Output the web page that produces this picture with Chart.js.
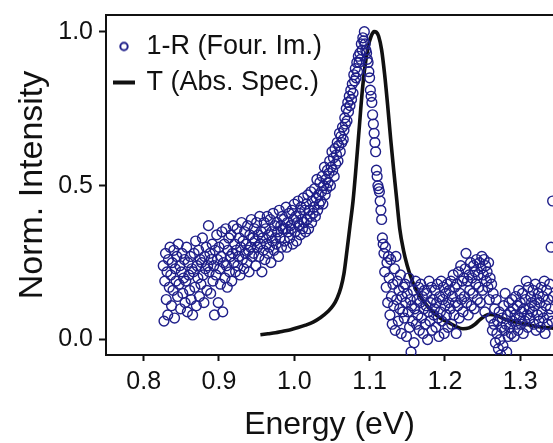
<!DOCTYPE html>
<html>
<head>
<meta charset="utf-8">
<script src="https://cdn.jsdelivr.net/npm/chart.js@4"></script>
<style>
  html, body { margin: 0; padding: 0; background: #fff; overflow: hidden; }
</style>
</head>
<body>
<canvas id="chart" width="553" height="443"></canvas>
<script>
// 1-R (Fourier imaging), energy in eV
const reflE = [
  0.826, 0.827, 0.828, 0.829, 0.830, 0.831, 0.832, 0.833, 0.834, 0.835,
  0.836, 0.837, 0.838, 0.839, 0.840, 0.841, 0.842, 0.843, 0.844, 0.845,
  0.846, 0.847, 0.848, 0.849, 0.850, 0.851, 0.852, 0.853, 0.854, 0.855,
  0.856, 0.857, 0.858, 0.859, 0.860, 0.861, 0.862, 0.863, 0.864, 0.865,
  0.866, 0.867, 0.868, 0.869, 0.870, 0.871, 0.872, 0.873, 0.874, 0.875,
  0.876, 0.877, 0.878, 0.879, 0.880, 0.881, 0.882, 0.883, 0.884, 0.885,
  0.886, 0.887, 0.888, 0.889, 0.890, 0.891, 0.892, 0.893, 0.894, 0.895,
  0.896, 0.897, 0.898, 0.899, 0.900, 0.901, 0.902, 0.903, 0.904, 0.905,
  0.906, 0.907, 0.908, 0.909, 0.910, 0.911, 0.912, 0.913, 0.914, 0.915,
  0.916, 0.917, 0.918, 0.919, 0.920, 0.921, 0.922, 0.923, 0.924, 0.925,
  0.926, 0.927, 0.928, 0.929, 0.930, 0.931, 0.932, 0.933, 0.934, 0.935,
  0.936, 0.937, 0.938, 0.939, 0.940, 0.941, 0.942, 0.943, 0.944, 0.945,
  0.946, 0.947, 0.948, 0.949, 0.950, 0.951, 0.952, 0.953, 0.954, 0.955,
  0.956, 0.957, 0.958, 0.959, 0.960, 0.961, 0.962, 0.963, 0.964, 0.965,
  0.966, 0.967, 0.968, 0.969, 0.970, 0.971, 0.972, 0.973, 0.974, 0.975,
  0.976, 0.977, 0.978, 0.979, 0.980, 0.981, 0.982, 0.983, 0.984, 0.985,
  0.986, 0.987, 0.988, 0.989, 0.990, 0.991, 0.992, 0.993, 0.994, 0.995,
  0.996, 0.997, 0.998, 0.999, 1.000, 1.001, 1.002, 1.003, 1.004, 1.005,
  1.006, 1.007, 1.008, 1.009, 1.010, 1.011, 1.012, 1.013, 1.014, 1.015,
  1.016, 1.017, 1.018, 1.019, 1.020, 1.021, 1.022, 1.023, 1.024, 1.025,
  1.026, 1.027, 1.028, 1.029, 1.030, 1.031, 1.032, 1.033, 1.034, 1.035,
  1.036, 1.037, 1.038, 1.039, 1.040, 1.041, 1.042, 1.043, 1.044, 1.045,
  1.046, 1.047, 1.048, 1.049, 1.050, 1.051, 1.052, 1.053, 1.054, 1.055,
  1.056, 1.057, 1.058, 1.059, 1.060, 1.061, 1.062, 1.063, 1.064, 1.065,
  1.066, 1.067, 1.068, 1.069, 1.070, 1.071, 1.072, 1.073, 1.074, 1.075,
  1.076, 1.077, 1.078, 1.079, 1.080, 1.081, 1.082, 1.083, 1.084, 1.085,
  1.086, 1.087, 1.088, 1.089, 1.090, 1.091, 1.092, 1.093, 1.094, 1.095,
  1.096, 1.097, 1.098, 1.099, 1.100, 1.101, 1.102, 1.103, 1.104, 1.105,
  1.106, 1.107, 1.108, 1.109, 1.110, 1.111, 1.112, 1.113, 1.114, 1.115,
  1.116, 1.117, 1.118, 1.119, 1.120, 1.121, 1.122, 1.123, 1.124, 1.125,
  1.126, 1.127, 1.128, 1.129, 1.130, 1.131, 1.132, 1.133, 1.134, 1.135,
  1.136, 1.137, 1.138, 1.139, 1.140, 1.141, 1.142, 1.143, 1.144, 1.145,
  1.146, 1.147, 1.148, 1.149, 1.150, 1.151, 1.152, 1.153, 1.154, 1.155,
  1.156, 1.157, 1.158, 1.159, 1.160, 1.161, 1.162, 1.163, 1.164, 1.165,
  1.166, 1.167, 1.168, 1.169, 1.170, 1.171, 1.172, 1.173, 1.174, 1.175,
  1.176, 1.177, 1.178, 1.179, 1.180, 1.181, 1.182, 1.183, 1.184, 1.185,
  1.186, 1.187, 1.188, 1.189, 1.190, 1.191, 1.192, 1.193, 1.194, 1.195,
  1.196, 1.197, 1.198, 1.199, 1.200, 1.201, 1.202, 1.203, 1.204, 1.205,
  1.206, 1.207, 1.208, 1.209, 1.210, 1.211, 1.212, 1.213, 1.214, 1.215,
  1.216, 1.217, 1.218, 1.219, 1.220, 1.221, 1.222, 1.223, 1.224, 1.225,
  1.226, 1.227, 1.228, 1.229, 1.230, 1.231, 1.232, 1.233, 1.234, 1.235,
  1.236, 1.237, 1.238, 1.239, 1.240, 1.241, 1.242, 1.243, 1.244, 1.245,
  1.246, 1.247, 1.248, 1.249, 1.250, 1.251, 1.252, 1.253, 1.254, 1.255,
  1.256, 1.257, 1.258, 1.259, 1.260, 1.261, 1.262, 1.263, 1.264, 1.265,
  1.266, 1.267, 1.268, 1.269, 1.270, 1.271, 1.272, 1.273, 1.274, 1.275,
  1.276, 1.277, 1.278, 1.279, 1.280, 1.281, 1.282, 1.283, 1.284, 1.285,
  1.286, 1.287, 1.288, 1.289, 1.290, 1.291, 1.292, 1.293, 1.294, 1.295,
  1.296, 1.297, 1.298, 1.299, 1.300, 1.301, 1.302, 1.303, 1.304, 1.305,
  1.306, 1.307, 1.308, 1.309, 1.310, 1.311, 1.312, 1.313, 1.314, 1.315,
  1.316, 1.317, 1.318, 1.319, 1.320, 1.321, 1.322, 1.323, 1.324, 1.325,
  1.326, 1.327, 1.328, 1.329, 1.330, 1.331, 1.332, 1.333, 1.334, 1.335,
  1.336, 1.337, 1.338, 1.339, 1.340, 1.341, 1.342, 1.343, 1.344, 1.345
];

// normalised 1-R intensity
const reflI = [
  0.24, 0.06, 0.19, 0.28, 0.13, 0.22, 0.08, 0.26, 0.17, 0.30,
  0.21, 0.11, 0.25, 0.16, 0.29, 0.07, 0.23, 0.19, 0.27, 0.14,
  0.31, 0.18, 0.24, 0.10, 0.22, 0.28, 0.15, 0.20, 0.26, 0.12,
  0.19, 0.30, 0.09, 0.25, 0.21, 0.16, 0.27, 0.13, 0.23, 0.08,
  0.22, 0.28, 0.17, 0.32, 0.11, 0.24, 0.20, 0.29, 0.14, 0.26,
  0.18, 0.25, 0.33, 0.21, 0.12, 0.27, 0.23, 0.30, 0.16, 0.24,
  0.37, 0.22, 0.28, 0.15, 0.26, 0.31, 0.19, 0.24, 0.08, 0.29,
  0.21, 0.34, 0.26, 0.12, 0.30, 0.23, 0.18, 0.27, 0.35, 0.09,
  0.25, 0.31, 0.20, 0.36, 0.24, 0.17, 0.29, 0.33, 0.22, 0.27,
  0.34, 0.19, 0.28, 0.37, 0.25, 0.31, 0.22, 0.29, 0.36, 0.24,
  0.27, 0.33, 0.21, 0.30, 0.38, 0.26, 0.32, 0.23, 0.35, 0.28,
  0.31, 0.25, 0.37, 0.29, 0.22, 0.34, 0.30, 0.39, 0.27, 0.33,
  0.28, 0.36, 0.32, 0.24, 0.38, 0.30, 0.34, 0.27, 0.40, 0.31,
  0.35, 0.22, 0.33, 0.29, 0.38, 0.26, 0.36, 0.31, 0.40, 0.28,
  0.34, 0.30, 0.39, 0.25, 0.35, 0.32, 0.41, 0.29, 0.37, 0.33,
  0.31, 0.38, 0.35, 0.27, 0.42, 0.33, 0.37, 0.30, 0.40, 0.36,
  0.39, 0.32, 0.36, 0.43, 0.30, 0.38, 0.35, 0.41, 0.33, 0.37,
  0.36, 0.42, 0.31, 0.39, 0.44, 0.35, 0.40, 0.32, 0.38, 0.45,
  0.37, 0.41, 0.34, 0.43, 0.39, 0.36, 0.46, 0.38, 0.42, 0.35,
  0.44, 0.39, 0.47, 0.36, 0.42, 0.40, 0.48, 0.38, 0.45, 0.41,
  0.43, 0.49, 0.40, 0.46, 0.52, 0.42, 0.47, 0.44, 0.51, 0.45,
  0.48, 0.53, 0.44, 0.50, 0.56, 0.47, 0.52, 0.49, 0.55, 0.51,
  0.54, 0.58, 0.50, 0.56, 0.61, 0.55, 0.59, 0.53, 0.62, 0.57,
  0.60, 0.64, 0.58, 0.63, 0.67, 0.61, 0.66, 0.64, 0.69, 0.65,
  0.68, 0.72, 0.70, 0.75, 0.71, 0.77, 0.74, 0.79, 0.76, 0.81,
  0.78, 0.83, 0.80, 0.86, 0.84, 0.88, 0.85, 0.90, 0.87, 0.92,
  0.90, 0.93, 0.91, 0.96, 0.94, 0.98, 0.97, 1.00, 0.96, 0.94,
  0.93, 0.91, 0.90, 0.87, 0.85, 0.81, 0.79, 0.77, 0.73, 0.70,
  0.67, 0.64, 0.61, 0.55, 0.53, 0.50, 0.49, 0.48, 0.45, 0.42,
  0.39, 0.33, 0.31, 0.28, 0.22, 0.30, 0.17, 0.25, 0.12, 0.27,
  0.20, 0.08, 0.26, 0.14, 0.05, 0.18, 0.11, 0.23, 0.03, 0.27,
  0.13, 0.19, 0.06, 0.16, 0.10, 0.21, 0.02, 0.14, 0.09, 0.17,
  0.07, 0.18, 0.12, 0.01, 0.15, 0.09, 0.20, 0.04, 0.13, -0.04,
  0.11, 0.06, 0.16, -0.01, 0.10, 0.19, 0.05, 0.13, 0.08, 0.17,
  0.03, 0.12, 0.18, 0.07, 0.14, 0.02, 0.10, 0.16, 0.05, 0.11,
  0.15, 0.00, 0.09, 0.19, 0.06, 0.12, 0.17, 0.03, 0.13, 0.08,
  0.10, 0.16, 0.04, 0.12, 0.18, 0.07, 0.01, 0.14, 0.09, 0.19,
  0.06, 0.13, 0.17, 0.02, 0.11, 0.15, 0.08, 0.18, 0.04, 0.12,
  0.16, 0.10, 0.19, 0.05, 0.14, 0.21, 0.08, 0.17, 0.12, 0.02,
  0.18, 0.11, 0.22, 0.07, 0.15, 0.24, 0.13, 0.19, 0.09, 0.20,
  0.14, 0.23, 0.28, 0.12, 0.19, 0.08, 0.21, 0.16, 0.25, 0.11,
  0.20, 0.15, 0.24, 0.10, 0.22, 0.18, 0.26, 0.13, 0.21, 0.17,
  0.25, 0.12, 0.23, 0.27, 0.16, 0.21, 0.26, 0.09, 0.24, 0.19,
  0.22, 0.17, 0.25, 0.13, 0.20, 0.07, 0.18, 0.03, 0.15, 0.05,
  0.10, -0.01, 0.13, 0.02, 0.06, -0.03, 0.09, 0.00, -0.05, 0.04,
  0.07, -0.02, 0.11, 0.03, 0.15, 0.05, -0.04, 0.08, 0.01, 0.12,
  0.04, 0.09, 0.02, 0.13, 0.06, 0.10, 0.01, 0.08, 0.14, 0.05,
  0.11, 0.03, 0.16, 0.07, 0.12, 0.05, 0.09, 0.15, 0.02, 0.10,
  0.06, 0.13, 0.19, 0.08, 0.04, 0.17, 0.10, 0.07, 0.14, 0.12,
  0.09, 0.16, 0.05, 0.11, 0.18, 0.03, 0.13, 0.08, 0.15, 0.06,
  0.12, 0.04, 0.17, 0.09, 0.14, 0.07, 0.19, 0.02, 0.11, 0.16,
  0.05, 0.13, 0.08, 0.18, 0.10, 0.30, 0.06, 0.45, 0.14, 0.09
];

// T (absorption spectrum)
const transE = [0.955, 0.965, 0.975, 0.985, 0.995, 1.005, 1.015, 1.025, 1.035, 1.045,
  1.052, 1.057, 1.062, 1.066, 1.070, 1.074, 1.078, 1.082, 1.086, 1.090,
  1.094, 1.098, 1.102, 1.106, 1.109, 1.112, 1.116, 1.120, 1.124, 1.128,
  1.132, 1.136, 1.140, 1.145, 1.150, 1.156, 1.162, 1.170, 1.178, 1.186,
  1.195, 1.205, 1.215, 1.224, 1.232, 1.240, 1.247, 1.254, 1.260, 1.266,
  1.274, 1.284, 1.295, 1.305, 1.315, 1.325, 1.335, 1.345];
const transI = [0.016, 0.019, 0.022, 0.027, 0.032, 0.039, 0.047, 0.057, 0.072, 0.092,
  0.112, 0.135, 0.17, 0.215, 0.29, 0.37, 0.45, 0.56, 0.68, 0.80,
  0.89, 0.95, 0.985, 1.0, 0.998, 0.985, 0.94, 0.86, 0.76, 0.65,
  0.55, 0.455, 0.36, 0.29, 0.24, 0.195, 0.16, 0.13, 0.105, 0.085,
  0.068, 0.055, 0.042, 0.035, 0.038, 0.05, 0.066, 0.078, 0.082, 0.08,
  0.072, 0.063, 0.056, 0.051, 0.046, 0.042, 0.039, 0.037];

const xTicks = [0.8, 0.9, 1.0, 1.1, 1.2, 1.3];
const yTicks = [0.0, 0.5, 1.0];

const FONT = "'Liberation Sans', Arial, sans-serif";
const INK = "#111";
const NAVY = "#1f1f8a";

// little canvases used as legend symbols
function makeIcon(w, h, draw) {
  const c = document.createElement("canvas");
  c.width = w;
  c.height = h;
  draw(c.getContext("2d"));
  return c;
}
const circleIcon = makeIcon(12, 12, g => {
  g.strokeStyle = NAVY;
  g.lineWidth = 2;
  g.beginPath();
  g.arc(6, 6, 3.7, 0, Math.PI * 2);
  g.stroke();
});
const lineIcon = makeIcon(22, 6, g => {
  g.fillStyle = INK;
  g.fillRect(0, 1, 22, 4);
});

// top edge of the frame (right edge is cut off in the original)
const topFrame = {
  id: "topFrame",
  afterDraw(chart) {
    const { ctx, chartArea: a } = chart;
    ctx.save();
    ctx.strokeStyle = INK;
    ctx.lineWidth = 2;
    ctx.beginPath();
    ctx.moveTo(a.left - 1, a.top);
    ctx.lineTo(a.right, a.top);
    ctx.stroke();
    ctx.restore();
  }
};

const reflPoints = reflE.map((x, i) => ({ x, y: reflI[i] }));
const transPoints = transE.map((x, i) => ({ x, y: transI[i] }));

new Chart(document.getElementById("chart"), {
  type: "scatter",
  data: {
    datasets: [{
      label: "1-R (Four. Im.)",
      data: reflPoints,
      showLine: false,
      pointRadius: 4.9,
      pointHoverRadius: 4.9,
      borderWidth: 1.4,
      borderColor: NAVY,
      backgroundColor: "rgba(0,0,0,0)"
    }, {
      label: "T (Abs. Spec.)",
      data: transPoints,
      showLine: true,
      borderColor: INK,
      borderWidth: 3.6,
      pointRadius: 0,
      cubicInterpolationMode: "monotone",
      fill: false
    }]
  },
  options: {
    responsive: false,
    animation: false,
    events: [],
    layout: { autoPadding: false, padding: { top: 15, right: 0, bottom: 0, left: 0 } },
    plugins: {
      tooltip: { enabled: false },
      legend: {
        position: "chartArea",
        align: "start",
        // empty title only pushes the entries down a bit
        title: { display: true, text: "", font: { size: 24, lineHeight: 1 }, padding: 0 },
        labels: {
          font: { family: FONT, size: 27 },
          color: INK,
          padding: 9,
          boxWidth: 18,
          boxHeight: 18,
          usePointStyle: true,
          generateLabels: chart => chart.data.datasets.map((ds, i) => ({
            text: ds.label,
            pointStyle: i === 0 ? circleIcon : lineIcon,
            datasetIndex: i,
            hidden: false,
            lineWidth: 0,
            strokeStyle: "transparent",
            fillStyle: "transparent",
            fontColor: INK
          }))
        }
      }
    },
    scales: {
      x: {
        type: "linear",
        min: 0.75,
        max: 1.3435,
        afterBuildTicks: s => { s.ticks = xTicks.map(v => ({ value: v })); },
        afterFit: s => { s.height = 88; s.paddingLeft = 0; s.paddingRight = 0; },
        grid: { drawOnChartArea: false, tickLength: 6, tickWidth: 2, tickColor: INK },
        border: { display: true, color: INK, width: 2 },
        ticks: {
          font: { family: FONT, size: 25 },
          color: INK,
          padding: 6,
          maxRotation: 0,
          autoSkip: false,
          callback: v => v.toFixed(1)
        },
        title: {
          display: true,
          text: "Energy (eV)",
          font: { family: FONT, size: 32, lineHeight: 1.1 },
          color: INK,
          padding: 0
        }
      },
      y: {
        min: -0.05,
        max: 1.054,
        afterBuildTicks: s => { s.ticks = yTicks.map(v => ({ value: v })); },
        afterFit: s => { s.width = 106; s.paddingTop = 0; s.paddingBottom = 0; },
        grid: { drawOnChartArea: false, tickLength: 7, tickWidth: 2, tickColor: INK },
        border: { display: true, color: INK, width: 2 },
        ticks: {
          font: { family: FONT, size: 25 },
          color: INK,
          padding: 6,
          callback: v => v.toFixed(1)
        },
        title: {
          display: true,
          text: "Norm. Intensity",
          font: { family: FONT, size: 34, lineHeight: 1.1 },
          color: INK,
          padding: { top: 14, bottom: 0 }
        }
      }
    }
  },
  plugins: [topFrame]
});
</script>
</body>
</html>
